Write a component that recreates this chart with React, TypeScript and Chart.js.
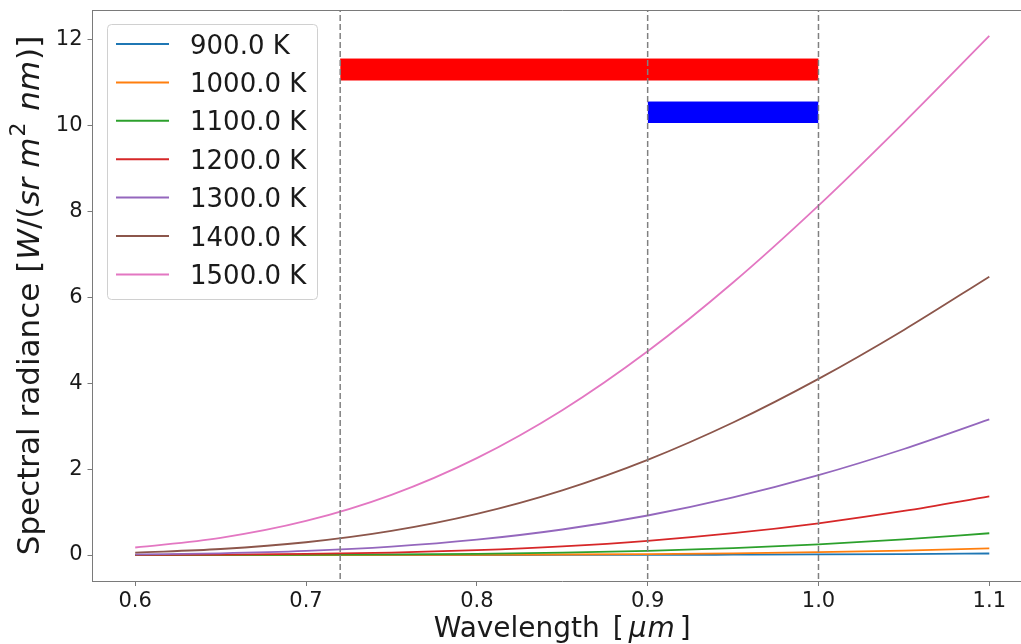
import React, { useEffect, useRef } from 'react';
import { Chart, registerables } from 'chart.js';

Chart.register(...registerables);

// ---- data ----
const wavelengths = [0.6, 0.65, 0.7, 0.75, 0.8, 0.85, 0.9, 0.95, 1.0, 1.05, 1.1];
const seriesLabels = ['900.0 K', '1000.0 K', '1100.0 K', '1200.0 K', '1300.0 K', '1400.0 K', '1500.0 K'];
const r900 = [0.000004, 0.000021, 0.000085, 0.00028, 0.00076, 0.0018, 0.0039, 0.0076, 0.0136, 0.0228, 0.036];
const r1000 = [0.00006, 0.00025, 0.00084, 0.0023, 0.0056, 0.012, 0.023, 0.041, 0.067, 0.104, 0.154];
const r1100 = [0.0005, 0.0019, 0.0054, 0.0134, 0.029, 0.056, 0.098, 0.161, 0.249, 0.363, 0.507];
const r1200 = [0.0032, 0.01, 0.026, 0.057, 0.113, 0.201, 0.33, 0.508, 0.739, 1.025, 1.365];
const r1300 = [0.0149, 0.041, 0.096, 0.196, 0.357, 0.594, 0.92, 1.341, 1.858, 2.467, 3.156];
const r1400 = [0.056, 0.14, 0.298, 0.562, 0.958, 1.506, 2.216, 3.084, 4.099, 5.238, 6.477];
const r1500 = [0.175, 0.4, 0.793, 1.401, 2.256, 3.371, 4.742, 6.342, 8.131, 10.063, 12.077];
const seriesValues = [r900, r1000, r1100, r1200, r1300, r1400, r1500];
const seriesColors = ['#1f77b4', '#ff7f0e', '#2ca02c', '#d62728', '#9467bd', '#8c564b', '#e377c2'];

const markerLines = [0.72, 0.9, 1.0];
const redBandX = [0.72, 1.0];
const redBandY = [11.04, 11.54];
const blueBandX = [0.9, 1.0];
const blueBandY = [10.05, 10.54];

const xTicks = [0.6, 0.7, 0.8, 0.9, 1.0, 1.1];
const yTicks = [0, 2, 4, 6, 8, 10, 12];
const xRange = [0.575, 1.125];
const yRange = [-0.604, 12.681];

const FONT = '"DejaVu Sans", sans-serif';
const SPINE = '#7a7a7a';
const TEXT = '#1a1a1a';

type Seg = { t: string; italic?: boolean; sup?: boolean; dx?: number; ls?: number };

function drawSegments(ctx: CanvasRenderingContext2D, segs: Seg[], size: number, cx: number, baseline: number) {
  const c: any = ctx;
  const fontFor = (s: Seg) => `${s.italic ? 'italic ' : ''}${s.sup ? Math.round(size * 0.7) : size}px ${FONT}`;
  let total = 0;
  const widths = segs.map((s) => {
    ctx.font = fontFor(s);
    c.letterSpacing = `${s.ls || 0}px`;
    const w = ctx.measureText(s.t).width + (s.dx || 0);
    total += w;
    return w;
  });
  let x = cx - total / 2;
  ctx.textBaseline = 'alphabetic';
  ctx.textAlign = 'left';
  segs.forEach((s, i) => {
    ctx.font = fontFor(s);
    c.letterSpacing = `${s.ls || 0}px`;
    ctx.fillText(s.t, x + (s.dx || 0), s.sup ? baseline - size * 0.42 : baseline);
    x += widths[i];
  });
  c.letterSpacing = '0px';
}

const decorPlugin = {
  id: 'decor',
  afterDraw(chart: any) {
    const { ctx, chartArea: ca } = chart;
    ctx.save();
    // top spine
    ctx.strokeStyle = SPINE;
    ctx.lineWidth = 1;
    ctx.beginPath();
    ctx.moveTo(ca.left, Math.round(ca.top) + 0.5);
    ctx.lineTo(ca.right, Math.round(ca.top) + 0.5);
    ctx.stroke();

    // legend
    const bx = 107, by = 24, bw = 210, bh = 275;
    ctx.beginPath();
    (ctx as any).roundRect(bx + 0.5, by + 0.5, bw, bh, 4);
    ctx.fillStyle = 'rgba(255,255,255,0.8)';
    ctx.fill();
    ctx.strokeStyle = '#d0d0d0';
    ctx.lineWidth = 1;
    ctx.stroke();
    seriesLabels.forEach((lab, i) => {
      const cy = 44 + i * 38.4;
      ctx.strokeStyle = seriesColors[i];
      ctx.lineWidth = 2;
      ctx.beginPath();
      ctx.moveTo(116, cy);
      ctx.lineTo(169, cy);
      ctx.stroke();
      ctx.fillStyle = TEXT;
      ctx.font = `26px ${FONT}`;
      ctx.textAlign = 'left';
      ctx.textBaseline = 'alphabetic';
      ctx.fillText(lab, 190, cy + 9.5);
    });

    // axis titles
    ctx.fillStyle = TEXT;
    const xc = (ca.left + ca.right) / 2;
    drawSegments(
      ctx,
      [{ t: 'Wavelength' }, { t: '[', dx: 13 }, { t: 'μm', italic: true, dx: 5, ls: 1 }, { t: ']', dx: 4 }],
      28,
      xc,
      637
    );

    const yc = (ca.top + ca.bottom) / 2;
    ctx.save();
    ctx.translate(38.5, yc);
    ctx.rotate(-Math.PI / 2);
    drawSegments(
      ctx,
      [
        { t: 'Spectral radiance [' },
        { t: 'W', italic: true, dx: 1 },
        { t: '/(' },
        { t: 'sr m', italic: true },
        { t: '2', sup: true, dx: 1 },
        { t: ' nm', italic: true, dx: 2 },
        { t: ')', dx: 1 },
        { t: ']' },
      ],
      31,
      0,
      0
    );
    ctx.restore();
    ctx.restore();
  },
};

export default function App() {
  const ref = useRef<HTMLCanvasElement | null>(null);

  useEffect(() => {
    if (!ref.current) return;
    const curveSets = seriesValues.map((vals, i) => ({
      label: seriesLabels[i],
      data: wavelengths.map((w, j) => ({ x: w, y: vals[j] })),
      borderColor: seriesColors[i],
      backgroundColor: seriesColors[i],
      borderWidth: 1.8,
      pointRadius: 0,
      cubicInterpolationMode: 'monotone' as const,
      fill: false,
      order: 20 - i,
    }));
    const bandSet = (xs: number[], ys: number[], color: string) => ({
      label: 'band',
      data: xs.map((x) => ({ x, y: ys[1] })),
      borderColor: color,
      backgroundColor: color,
      borderWidth: 1,
      pointRadius: 0,
      fill: { value: ys[0] },
      order: 2,
    });
    const vlineSets = markerLines.map((x) => ({
      label: 'marker',
      data: [
        { x, y: yRange[0] - 1 },
        { x, y: yRange[1] + 1 },
      ],
      borderColor: '#808080',
      borderWidth: 1.5,
      borderDash: [6, 3],
      pointRadius: 0,
      fill: false,
      clip: 0,
      order: 1,
    }));

    const chart = new Chart(ref.current, {
      type: 'line',
      data: { datasets: [...curveSets, bandSet(redBandX, redBandY, '#ff0000'), bandSet(blueBandX, blueBandY, '#0000ff'), ...vlineSets] as any },
      options: {
        animation: false,
        responsive: false,
        devicePixelRatio: 1,
        layout: { padding: { top: 10, right: 8, left: 0, bottom: 0 } },
        plugins: { legend: { display: false }, tooltip: { enabled: false } },
        scales: {
          x: {
            type: 'linear',
            min: xRange[0],
            max: xRange[1],
            afterBuildTicks: (s: any) => {
              s.ticks = xTicks.map((v) => ({ value: v }));
            },
            afterFit: (s: any) => {
              s.height = 63;
              s.paddingLeft = 0;
              s.paddingRight = 0;
            },
            ticks: {
              autoSkip: false,
              maxRotation: 0,
              padding: 3,
              color: TEXT,
              font: { family: FONT, size: 21 },
              callback: (v: any) => Number(v).toFixed(1),
            },
            grid: { drawOnChartArea: false, drawTicks: true, tickLength: 5, color: SPINE },
            border: { display: true, color: SPINE, width: 1 },
          },
          y: {
            type: 'linear',
            min: yRange[0],
            max: yRange[1],
            afterBuildTicks: (s: any) => {
              s.ticks = yTicks.map((v) => ({ value: v }));
            },
            afterFit: (s: any) => {
              s.width = 92.5;
              s.paddingTop = 0;
              s.paddingBottom = 0;
            },
            ticks: {
              autoSkip: false,
              padding: 5,
              color: TEXT,
              font: { family: FONT, size: 21 },
              callback: (v: any) => String(Math.round(Number(v))),
            },
            grid: { drawOnChartArea: false, drawTicks: true, tickLength: 5, color: SPINE },
            border: { display: true, color: SPINE, width: 1 },
          },
        },
      },
      plugins: [decorPlugin],
    });
    return () => chart.destroy();
  }, []);

  return (
    <div style={{ position: 'fixed', left: 0, top: 0, width: 1021, height: 644, overflow: 'hidden', background: '#fff' }}>
      <canvas ref={ref} width={1040} height={644} style={{ display: 'block' }} />
    </div>
  );
}
